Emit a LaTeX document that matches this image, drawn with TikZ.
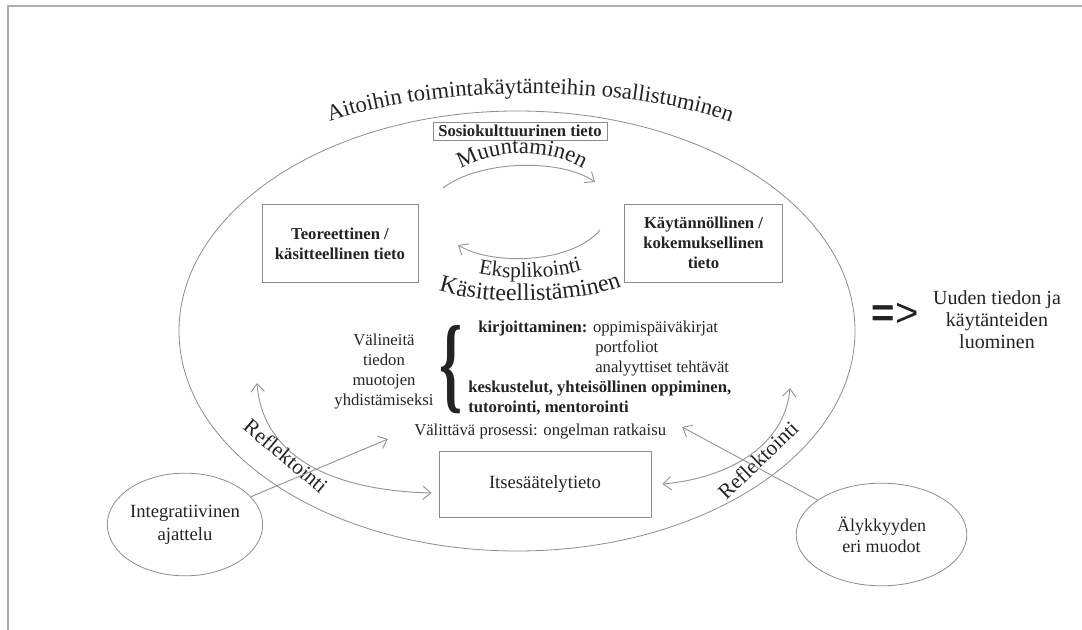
\documentclass[tikz,border=0pt]{standalone}
\usepackage{fontspec}
\setmainfont{Liberation Serif}
\newfontfamily\arrowfont{Liberation Sans}
\usetikzlibrary{shapes.geometric,arrows.meta,decorations.text}
\definecolor{framegray}{RGB}{175,175,175}
\definecolor{linegray}{RGB}{150,150,150}
\definecolor{boxgray}{RGB}{140,140,140}
\definecolor{inkdark}{RGB}{35,35,35}
\newcommand{\fsz}[2]{\fontsize{#1}{#2}\selectfont}

\begin{document}
\begin{tikzpicture}[x=0.75pt, y=-0.75pt, text=inkdark,
  knowbox/.style={draw=boxgray, line width=0.6pt, align=center, inner sep=2pt},
  oval/.style={ellipse, draw=boxgray, line width=0.6pt, align=center, inner sep=0pt},
  flow/.style={draw=linegray, line width=0.7pt},
  tip/.style={-{Straight Barb[length=6pt,width=10pt]}},
  bothtips/.style={{Straight Barb[length=6pt,width=10pt]}-{Straight Barb[length=6pt,width=10pt]}},
  arclabel/.style={decorate, decoration={text along path, text align=center, text={#1}}}]
  \useasboundingbox (0,0) rectangle (1082,630);
  % frame
  \draw[framegray, line width=1.2pt] (8,630) -- (8,6) -- (1082,6);

  % big context
  \node[oval, minimum width=507pt, minimum height=330pt] (outer) at (517,331) {};
  \path[arclabel={|\color{inkdark}\fsz{17pt}{17pt}|Aitoihin toimintakäytänteihin osallistuminen}]
    (300,135) .. controls (400,80) and (660,80) .. (760,135);

  % forms of knowledge
  \node[knowbox, font=\fsz{12.5pt}{15pt}\bfseries, minimum width=130.5pt,
        minimum height=13.5pt, inner sep=1pt] (socio) at (520,131) {Sosiokulttuurinen tieto};
  \node[knowbox, font=\fsz{12.5pt}{15pt}\bfseries, minimum width=117pt,
        minimum height=59pt] (theory) at (340,243.5) {Teoreettinen /\\käsitteellinen tieto};
  \node[knowbox, font=\fsz{12.5pt}{15pt}\bfseries, minimum width=118pt,
        minimum height=58.5pt] (practice) at (703.5,243) {Käytännöllinen /\\kokemuksellinen\\tieto};
  \node[knowbox, font=\fsz{14pt}{17pt}, minimum width=159pt,
        minimum height=49.5pt] (itse) at (545,484) {Itsesäätelytieto};

  % transformation cycle
  \coordinate (muunA) at (443,188);
  \coordinate (muunB) at (595,182);
  \draw[flow, tip] (muunA) .. controls (480,160) and (560,158) .. (muunB);
  \path[arclabel={|\color{inkdark}\fsz{17pt}{17pt}|Muuntaminen}]
    (450,176) .. controls (488,146) and (556,146) .. (594,176);
  \coordinate (eksA) at (600,230);
  \coordinate (eksB) at (458,245);
  \draw[flow, tip] (eksA) .. controls (570,265) and (490,265) .. (eksB);
  \path[arclabel={|\color{inkdark}\fsz{16pt}{16pt}|Eksplikointi}]
    (465,270) .. controls (500,282) and (560,280) .. (595,266);
  \path[arclabel={|\color{inkdark}\fsz{18pt}{18pt}|Käsitteellistäminen}]
    (425,285) .. controls (470,308) and (590,306) .. (635,280);

  % tools
  \node[font=\fsz{12.5pt}{15pt}, align=center] (tools) at (384,372)
    {Välineitä\\tiedon\\muotojen\\yhdistämiseksi};
  \node[font=\fsz{80pt}{80pt}\bfseries, inner sep=0pt] (brace) at (451,370) {\scalebox{0.55}[1]{\{}};
  \node[font=\fsz{12.5pt}{15pt}, align=left, anchor=north west, inner sep=0pt] (toollist) at (468,321)
    {\hspace*{7.5pt}\textbf{kirjoittaminen:} oppimispäiväkirjat\\
     \hspace*{95.25pt}portfoliot\\
     \hspace*{95.25pt}analyyttiset tehtävät\\
     \textbf{keskustelut, yhteisöllinen oppiminen,}\\
     \textbf{tutorointi, mentorointi}};
  \node[font=\fsz{12.5pt}{15pt}, anchor=base west, inner sep=0pt] (process) at (414,436)
    {Välittävä prosessi: ongelman ratkaisu};

  % reflection
  \coordinate (reflL) at (257,383);
  \draw[flow, bothtips] (reflL) .. controls (262,450) and (320,490) .. ([shift={(-7,9)}]itse.west);
  \node[font=\fsz{16pt}{16pt}, rotate=-40] (reflLtext) at (286,456) {Reflektointi};
  \coordinate (reflR) at (790,388);
  \draw[flow, bothtips] ([xshift=8.25pt]itse.east) .. controls (730,478) and (785,445) .. (reflR);
  \node[font=\fsz{16pt}{16pt}, rotate=44] (reflRtext) at (758,460) {Reflektointi};

  % outside influences
  \node[oval, font=\fsz{14pt}{17pt}, minimum width=112pt, minimum height=77pt] (integ) at (185,524.5)
    {Integratiivinen\\ajattelu};
  \node[oval, font=\fsz{13.5pt}{16pt}, minimum width=128pt, minimum height=77pt] (alyk) at (881.5,534.5)
    {Älykkyyden\\eri muodot};
  \coordinate (procL) at (388,439);
  \coordinate (procR) at (682,427);
  \draw[flow, tip] (integ) -- (procL);
  \draw[flow, tip] (alyk) -- (procR);

  % outcome
  \node[font=\arrowfont\fsz{30pt}{30pt}, inner sep=0pt] (implies) at (895,315) {{\bfseries =}>};
  \node[font=\fsz{15pt}{16.5pt}, align=center] (result) at (997,320)
    {Uuden tiedon ja\\käytänteiden\\luominen};
\end{tikzpicture}
\end{document}
